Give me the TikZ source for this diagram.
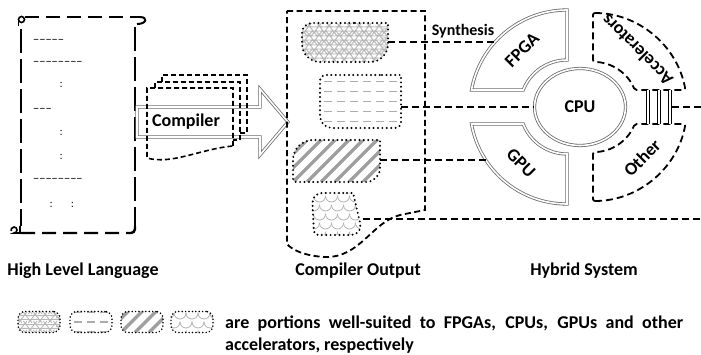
\documentclass[tikz,border=0pt]{standalone}
\usepackage{fontspec}
\setmainfont{Carlito}
\usetikzlibrary{shapes.geometric,decorations.pathmorphing}

\begin{document}
\begin{tikzpicture}[x=1pt, y=-1pt,
    lbl/.style={font=\fontsize{18}{20}\selectfont\bfseries, inner sep=0pt},
    code/.style={font=\ttfamily\fontsize{12}{12}\selectfont, anchor=west, inner sep=0pt},
    scrollv/.style={line width=2.4pt, dash pattern=on 24pt off 6pt},
    scrollh/.style={line width=2.4pt, dash pattern=on 14pt off 7pt},
    box/.style={line width=1.8pt, dash pattern=on 6pt off 3.5pt},
    page/.style={line width=1.6pt, dash pattern=on 5pt off 3pt},
    conn/.style={line width=1.8pt, dash pattern=on 7pt off 4pt},
    accel/.style={line width=1.8pt, dash pattern=on 7pt off 4pt, rounded corners=2pt},
    hw/.style={draw=gray!85!black, double=white, double distance=1.6pt, line width=0.8pt},
    blob/.style={line width=2.2pt, line cap=round, dash pattern=on 0pt off 4.4pt},
    icon/.style={draw, rounded corners=7pt, minimum width=42pt, minimum height=21pt,
        line width=1.7pt, line cap=round, dash pattern=on 0pt off 3.4pt},
    wavefill/.style={path picture={
        \foreach \k in {-1.5,-0.5,0.5,1.5}
          \draw[solid, gray!55, line width=0.9pt, decorate, decoration={snake, amplitude=2pt, segment length=10pt}]
            ([xshift=-6pt, yshift=\k*9pt]path picture bounding box.west) --
            ([xshift=6pt, yshift=\k*9pt]path picture bounding box.east);
    }},
    dashfill/.style={path picture={
        \foreach \k in {-2,...,2}
          \draw[gray!65, line width=1.4pt, line cap=butt, dash pattern=on 8pt off 5pt]
            ([xshift=4pt, yshift=\k*10pt]path picture bounding box.west) --
            ([yshift=\k*10pt]path picture bounding box.east);
    }},
    stripefill/.style={path picture={
        \foreach \k in {-5,...,8}
          \draw[solid, gray!75, line width=3.5pt, line cap=butt]
            ([xshift=\k*14pt]path picture bounding box.south west) -- ++(60pt,60pt);
    }},
    scalefill/.style={path picture={
        \foreach \i in {-4,...,4}
          \foreach \j in {-3,...,3}
            \draw[solid, gray!60, line width=0.8pt]
              ([xshift={\i*12pt+mod(\j,2)*6pt}, yshift=\j*9pt]path picture bounding box.center)
              arc[start angle=180, end angle=360, radius=6pt];
    }}
]
\useasboundingbox (0,0) rectangle (701,355);

% high level language (scroll)
\draw[scrollh] (25,17) -- (142,17);
\draw[line width=2pt] (140,17) .. controls (148,17) and (147,24) .. (137,24);
\draw[line width=1.6pt] (21.5,19.5) circle[radius=3];
\draw[line width=1.6pt] (18.5,19.5) -- (18.5,26);
\draw[scrollv] (21,29) -- (21,226);
\draw[scrollv] (135,27) -- (135,226);
\draw[scrollh, rounded corners=4pt] (21,233) -- (135,233) -- (135,225);
\draw[line width=1.6pt] (20,226) -- (20,233) -- (14,233) arc[start angle=90, end angle=-200, radius=3];
\node[code] (l1) at (33,41) {-{}-{}-{}-{}-};
\node[code] (l2) at (33,63) {-{}-{}-{}-{}-{}-{}-{}-};
\node[code] (l3) at (58,85) {:};
\node[code] (l4) at (33,110) {-{}-{}-};
\node[code] (l5) at (58,133) {:};
\node[code] (l6) at (58,157) {:};
\node[code] (l7) at (33,180) {-{}-{}-{}-{}-{}-{}-{}-};
\node[code] (l8) at (48,205) {:\hspace{15pt}:};

% compiler
\draw[hw] (137,107) -- (260,107) -- (260,89) -- (288,122) -- (260,155) -- (260,137) -- (137,137) -- cycle;
\draw[page] (162,82) -- (162,75) -- (247,75) -- (247,133) -- (240,133);
\draw[page] (155,88) -- (155,82) -- (240,82) -- (240,140) -- (233,140);
\draw[page] (233,146) -- (233,88) -- (147,88) -- (147,158)
    .. controls (172,165) and (200,149) .. (233,146);
\node[lbl] (comp) at (186,122) {Compiler};

% compiler output
\draw[box] (287,11) -- (425,11) -- (425,210) -- (400,215)
    .. controls (372,222) and (360,258) .. (325,257)
    .. controls (305,256) and (292,250) .. (287,244) -- cycle;
\draw[blob, wavefill] (345,23) -- (388,23) [rounded corners=18pt] -- (388,62) -- (302,62)
    [rounded corners=10pt] -- (302,23) -- cycle;
\draw[blob, dashfill] (360,75) -- (401,75) [rounded corners=6pt] -- (401,128)
    [rounded corners=12pt] -- (320,128) [rounded corners=6pt] -- (320,75)
    [rounded corners=22pt] -- cycle;
\draw[blob, stripefill] (335,140) -- (380,140) [rounded corners=14pt] -- (380,182)
    [rounded corners=3pt] -- (293,182) [rounded corners=20pt] -- (293,140) -- cycle;
\draw[blob, scalefill] (335,193) -- (353,193) [rounded corners=12pt] -- (363,235)
    [rounded corners=4pt] -- (314,235) [rounded corners=10pt] -- (312,193)
    [rounded corners=12pt] -- cycle;
\coordinate (fpgaout) at (388,42);
\coordinate (cpuout) at (401,107);
\coordinate (gpuout) at (380,160);
\coordinate (othout) at (363,219);

% hybrid system
\draw[hw] (567,10) arc[start angle=270, end angle=190.1, radius=97] -- (523.2,90)
    arc[start angle=201.2, end angle=270, radius=47] -- cycle;
\draw[hw] (567,204) arc[start angle=90, end angle=169.9, radius=97] -- (523.2,124)
    arc[start angle=158.8, end angle=90, radius=47] -- cycle;
\draw[accel] (593,13) arc[start angle=270, end angle=349.6, radius=94] -- (634.7,90)
    arc[start angle=337.8, end angle=270, radius=45] -- cycle;
\draw[accel] (593,201) arc[start angle=90, end angle=10.4, radius=94] -- (634.7,124)
    arc[start angle=22.2, end angle=90, radius=45] -- cycle;
\node[hw, ellipse, minimum width=91pt, minimum height=77pt, lbl] (cpu) at (580,107) {CPU};
\node[lbl, rotate=45] (fpga) at (522,50) {FPGA};
\node[lbl, rotate=-45] (gpu) at (521,163) {GPU};
\node[lbl, rotate=135] (acc) at (637,50) {Accelerators};
\node[lbl, rotate=45] (oth) at (642,158) {Other};
\foreach \x in {648,659,670}
  \draw[double=white, double distance=2pt, line width=0.9pt] (\x,90) -- (\x,124);
\coordinate (fpgain) at (495,42);
\coordinate (gpuin) at (486,160);
\coordinate (busout) at (672,107);
\coordinate (edgea) at (701,107);
\coordinate (edgeb) at (701,219);

% connectors
\draw[conn] (fpgaout) -- (fpgain);
\node[font=\fontsize{16}{18}\selectfont\bfseries, inner sep=0pt] (synth) at (463,31) {Synthesis};
\draw[conn] (cpuout) -- (cpu.west);
\draw[conn] (gpuout) -- (gpuin);
\draw[conn] (othout) -- (edgeb);
\draw[conn] (busout) -- (edgea);

% captions
\node[lbl] (hll) at (83,271) {High Level Language};
\node[lbl] (cout) at (358,271) {Compiler Output};
\node[lbl] (hyb) at (584,271) {Hybrid System};

% legend
\node[icon, wavefill] (lgfpga) at (39,322) {};
\node[icon, dashfill] (lgcpu) at (91,322) {};
\node[icon, stripefill] (lggpu) at (142,322) {};
\node[icon, scalefill] (lgoth) at (192,322) {};
\node[anchor=north west, text width=458pt, align=justify, inner sep=0pt,
    font=\fontsize{18}{22}\selectfont\bfseries] (legtext) at (225,316)
    {are portions well-suited to FPGAs, CPUs, GPUs and other\linebreak accelerators, respectively};
\end{tikzpicture}
\end{document}
